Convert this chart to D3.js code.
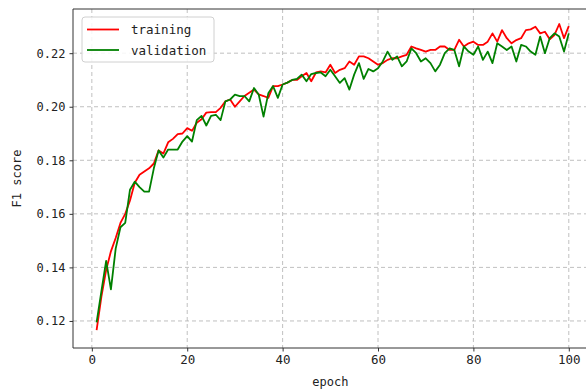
<!DOCTYPE html>
<html>
<head>
<meta charset="utf-8">
<script src="https://cdn.jsdelivr.net/npm/d3@7"></script>
<style>
  body { margin: 0; background: #fff; }
  svg { display: block; }
  text { font-family: "DejaVu Sans Mono", monospace; }
</style>
</head>
<body>
<div id="chart"></div>
<script>
// values, epoch = index + 1
const training = [
  0.1166, 0.129, 0.139, 0.146, 0.151, 0.1566, 0.160, 0.165, 0.1716, 0.1746,
  0.1758, 0.177, 0.1788, 0.1837, 0.1825, 0.1867, 0.188, 0.1898, 0.190, 0.192,
  0.191, 0.194, 0.1953, 0.1978, 0.198, 0.198, 0.1996, 0.202, 0.2027, 0.200,
  0.202, 0.204, 0.2052, 0.2064, 0.2046, 0.204, 0.2033, 0.2077, 0.2077, 0.2083,
  0.209, 0.210, 0.210, 0.2114, 0.2126, 0.2095, 0.2128, 0.2132, 0.2128, 0.2157,
  0.2126, 0.2138, 0.2144, 0.2169, 0.2157, 0.2188, 0.2188, 0.2181, 0.2169, 0.2157,
  0.2163, 0.2175, 0.2181, 0.2181, 0.2188, 0.2194, 0.2225, 0.2218, 0.2212, 0.2206,
  0.2212, 0.2212, 0.2225, 0.2225, 0.2212, 0.2212, 0.225, 0.2225, 0.2237, 0.2243,
  0.2231, 0.2231, 0.2243, 0.2274, 0.2243, 0.2286, 0.2256, 0.2237, 0.2249, 0.2256,
  0.2286, 0.2289, 0.2299, 0.2274, 0.228, 0.2252, 0.2268, 0.2309, 0.2256, 0.2301
];
const validation = [
  0.1195, 0.131, 0.1424, 0.1318, 0.147, 0.155, 0.1566, 0.169, 0.172, 0.170,
  0.1683, 0.1683, 0.177, 0.1837, 0.181, 0.184, 0.184, 0.184, 0.187, 0.189,
  0.187, 0.195, 0.1966, 0.193, 0.1966, 0.197, 0.195, 0.202, 0.2027, 0.2045,
  0.204, 0.204, 0.202, 0.207, 0.2045, 0.1963, 0.205, 0.2077, 0.2033, 0.2083,
  0.209, 0.210, 0.2104, 0.212, 0.2095, 0.2122, 0.2126, 0.2128, 0.2114, 0.2138,
  0.2114, 0.2089, 0.2107, 0.2064, 0.212, 0.2163, 0.2104, 0.2141, 0.2132, 0.2144,
  0.2169, 0.2206, 0.2175, 0.2188, 0.2151, 0.2169, 0.2218, 0.22, 0.2169, 0.2181,
  0.2163, 0.2132, 0.2157, 0.22, 0.2218, 0.2212, 0.2151, 0.2225, 0.2206, 0.2194,
  0.2225, 0.2175, 0.2206, 0.2163, 0.2237, 0.2225, 0.2212, 0.2225, 0.2169, 0.2231,
  0.2225, 0.2206, 0.2194, 0.2262, 0.22, 0.2256, 0.2274, 0.2262, 0.2206, 0.2274
];
const xTicks = [0, 20, 40, 60, 80, 100];
const yTicks = [0.12, 0.14, 0.16, 0.18, 0.20, 0.22];
const seriesNames = ["training", "validation"];
const seriesColors = ["#ff0000", "#008000"];

const width = 586, height = 390;
const margin = {top: 9, left: 73, bottom: 42};

const svg = d3.select("#chart").append("svg")
    .attr("width", width)
    .attr("height", height);

// matplotlib style 5% padding round the data
const x = d3.scaleLinear()
    .domain([1 - 4.95, 100 + 4.95])
    .range([margin.left, margin.left + 519.4]);

const y = d3.scaleLinear()
    .domain([0.1099, 0.2365])
    .range([height - margin.bottom, margin.top]);

const plotRight = x.range()[1];
const plotBottom = y.range()[0];

// grid
const grid = svg.append("g").attr("class", "grid");
grid.selectAll(".vgrid")
    .data(xTicks)
    .join("line")
    .attr("x1", d => x(d)).attr("x2", d => x(d))
    .attr("y1", margin.top).attr("y2", plotBottom)
    .attr("stroke", "#b0b0b0")
    .attr("stroke-width", 0.8)
    .attr("stroke-dasharray", "4,3");
grid.selectAll(".hgrid")
    .data(yTicks)
    .join("line")
    .attr("x1", margin.left).attr("x2", plotRight)
    .attr("y1", d => y(d)).attr("y2", d => y(d))
    .attr("stroke", "#b0b0b0")
    .attr("stroke-width", 0.8)
    .attr("stroke-dasharray", "4,3");

// lines
const line = d3.line()
    .x((d, i) => x(i + 1))
    .y(d => y(d));

[training, validation].forEach((vals, k) => {
    svg.append("path")
        .datum(vals)
        .attr("fill", "none")
        .attr("stroke", seriesColors[k])
        .attr("stroke-width", 1.8)
        .attr("stroke-linejoin", "round")
        .attr("d", line);
});

// axes
const xAxis = svg.append("g")
    .attr("transform", `translate(0,${plotBottom})`)
    .call(d3.axisBottom(x).tickValues(xTicks).tickSize(3.5).tickPadding(4).tickFormat(d3.format("d")));
const yAxis = svg.append("g")
    .attr("transform", `translate(${margin.left},0)`)
    .call(d3.axisLeft(y).tickValues(yTicks).tickSize(3.5).tickPadding(4).tickFormat(d3.format(".2f")));

[xAxis, yAxis].forEach(a => {
    a.select(".domain").remove();
    a.selectAll(".tick line").attr("stroke", "#333");
    a.selectAll(".tick text")
        .attr("fill", "#222")
        .attr("font-size", "12px")
        .attr("font-family", "'DejaVu Sans Mono', monospace");
});
xAxis.selectAll(".tick text").attr("font-family", "'Liberation Sans', Arial, sans-serif").attr("font-size", "12.5px");

// spines
svg.append("line")
    .attr("x1", margin.left).attr("x2", margin.left)
    .attr("y1", margin.top).attr("y2", plotBottom)
    .attr("stroke", "#333").attr("stroke-width", 1);
svg.append("line")
    .attr("x1", margin.left).attr("x2", plotRight)
    .attr("y1", plotBottom).attr("y2", plotBottom)
    .attr("stroke", "#333").attr("stroke-width", 1);
svg.append("line")
    .attr("x1", margin.left).attr("x2", plotRight)
    .attr("y1", margin.top).attr("y2", margin.top)
    .attr("stroke", "#333").attr("stroke-width", 1);

// axis labels
svg.append("text")
    .attr("x", x(50))
    .attr("y", 386)
    .attr("text-anchor", "middle")
    .attr("font-size", "12px")
    .attr("fill", "#222")
    .text("epoch");
svg.append("text")
    .attr("transform", `translate(21,${(margin.top + plotBottom) / 2}) rotate(-90)`)
    .attr("text-anchor", "middle")
    .attr("font-size", "12px")
    .attr("fill", "#222")
    .text("F1 score");

// legend
const legend = svg.append("g")
    .attr("transform", "translate(82,17)");
legend.append("rect")
    .attr("width", 132)
    .attr("height", 45)
    .attr("rx", 3)
    .attr("fill", "rgba(255,255,255,0.85)")
    .attr("stroke", "#d0d0d0");
const items = legend.selectAll(".legend-item")
    .data(seriesNames)
    .join("g")
    .attr("class", "legend-item")
    .attr("transform", (d, i) => `translate(0,${12.5 + i * 20.5})`);
items.append("line")
    .attr("x1", 5).attr("x2", 37)
    .attr("stroke", (d, i) => seriesColors[i])
    .attr("stroke-width", 1.8);
items.append("text")
    .attr("x", 49)
    .attr("y", 4.5)
    .attr("font-size", "12.5px")
    .attr("fill", "#222")
    .text(d => d);
</script>
</body>
</html>
